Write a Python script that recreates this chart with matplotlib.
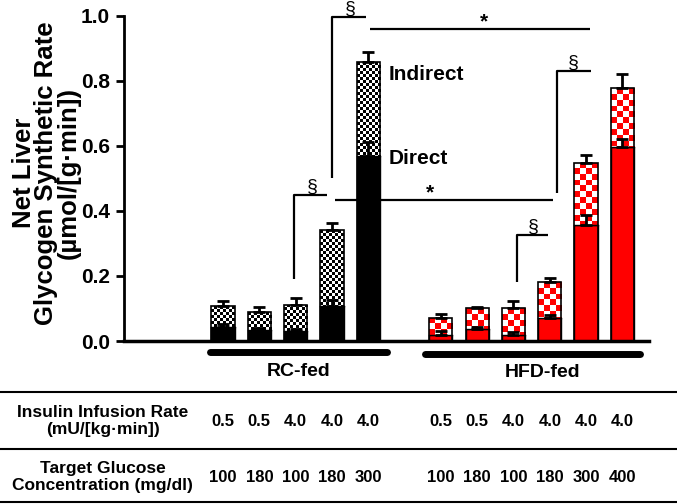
import numpy as np
import matplotlib
matplotlib.use("Agg")
import matplotlib.pyplot as plt
from matplotlib.patches import Rectangle
import matplotlib.transforms as mtransforms

plt.rcParams['font.family'] = ['Liberation Sans', 'DejaVu Sans']
plt.rcParams['font.weight'] = 'bold'

# ------------------------------- chart data -------------------------------- #
rc_pos = [0, 1, 2, 3, 4]
rc_total = [0.107, 0.090, 0.112, 0.340, 0.857]
rc_total_err = [0.015, 0.014, 0.021, 0.022, 0.031]
rc_direct = [0.043, 0.035, 0.030, 0.107, 0.568]
rc_direct_err = [0.008, 0.006, 0.008, 0.020, 0.045]

hfd_pos = [6, 7, 8, 9, 10, 11]
hfd_total = [0.072, 0.100, 0.100, 0.180, 0.548, 0.778]
hfd_total_err = [0.012, 0.005, 0.024, 0.013, 0.024, 0.043]
hfd_direct = [0.018, 0.038, 0.020, 0.070, 0.357, 0.598]
hfd_direct_err = [0.012, 0.006, 0.008, 0.010, 0.030, 0.024]

insulin = ["0.5", "0.5", "4.0", "4.0", "4.0", "0.5", "0.5", "4.0", "4.0", "4.0", "4.0"]
glucose = ["100", "180", "100", "180", "300", "100", "180", "100", "180", "300", "400"]
yticks = [0.0, 0.2, 0.4, 0.6, 0.8, 1.0]

width = 0.64
red = "#ff0000"

# --------------------------------- figure ---------------------------------- #
fig = plt.figure(figsize=(6.77, 5.04), dpi=100)
ax = fig.add_axes([0.183, 0.3234, 0.776, 0.645])
ax.set_xlim(-2.73, 11.74)
ax.set_ylim(0, 1.0)


def checker(ax, x, bottom, top, ncols, sq_h, c1):
    # checkerboard fill of one bar segment, clipped to the segment
    nrows = int(np.ceil((top - bottom) / sq_h)) + 1
    img = np.ones((nrows, ncols, 3))
    rgb = matplotlib.colors.to_rgb(c1)
    for i in range(nrows):
        for j in range(ncols):
            if (i + j) % 2 == 0:
                img[i, j] = rgb
    y0 = top - nrows * sq_h
    im = ax.imshow(img, extent=(x - width / 2, x + width / 2, y0, top),
                   origin='lower', interpolation='nearest', aspect='auto', zorder=2)
    clip = Rectangle((x - width / 2, bottom), width, top - bottom,
                     transform=ax.transData, facecolor='none', edgecolor='none')
    im.set_clip_path(clip)


def draw_group(pos, total, total_err, direct, direct_err, dcolor, ncols, sq_h, ccolor):
    ax.bar(pos, direct, width, color=dcolor, edgecolor='black', linewidth=1, zorder=2)
    for x, d, t in zip(pos, direct, total):
        checker(ax, x, d, t, ncols, sq_h, ccolor)
    ax.bar(pos, total, width, facecolor='none', edgecolor='black', linewidth=1.2, zorder=3)
    ax.plot([np.array(pos) - width / 2, np.array(pos) + width / 2], [direct, direct],
            color='black', lw=1, zorder=3)
    ax.errorbar(pos, total, yerr=[np.zeros(len(pos)), total_err], fmt='none',
                ecolor='black', elinewidth=2, capsize=4.5, capthick=2, zorder=4)
    ax.errorbar(pos, direct, yerr=[np.zeros(len(pos)), direct_err], fmt='none',
                ecolor='black', elinewidth=2, capsize=4.5, capthick=2, zorder=4)


draw_group(rc_pos, rc_total, rc_total_err, rc_direct, rc_direct_err, 'black', 8, 0.0092, 'black')
draw_group(hfd_pos, hfd_total, hfd_total_err, hfd_direct, hfd_direct_err, red, 4, 0.0178, red)

# axes styling
for s in ['top', 'right']:
    ax.spines[s].set_visible(False)
ax.spines['left'].set_linewidth(2)
ax.spines['bottom'].set_linewidth(2.5)
ax.set_xticks([])
ax.set_yticks(yticks)
ax.set_yticklabels([f"{v:.1f}" for v in yticks], fontsize=15, fontweight='bold')
ax.tick_params(axis='y', direction='out', length=6, width=2, pad=4)
ax.set_ylabel("Net Liver\nGlycogen Synthetic Rate\n(µmol/[g·min])",
              fontsize=18.5, fontweight='bold', linespacing=0.92)
ax.yaxis.set_label_coords(-0.082, 0.517)

# labels for segments
ax.text(4.55, 0.82, "Indirect", fontsize=15, fontweight='bold', va='center')
ax.text(4.55, 0.56, "Direct", fontsize=15, fontweight='bold', va='center')

# significance brackets
lk = dict(color='black', lw=1.6, clip_on=False, solid_capstyle='butt')
sk = dict(fontsize=14, ha='center', va='bottom', fontweight='normal')
ax.plot([3.0, 3.0, 3.94], [0.50, 0.997, 0.997], **lk)
ax.text(3.5, 0.995, "§", **sk)
ax.plot([4.05, 10.1], [0.96, 0.96], **lk)
ax.text(7.2, 0.952, "*", fontsize=15, ha='center', va='bottom')

ax.plot([1.96, 1.96, 2.87], [0.19, 0.45, 0.45], **lk)
ax.text(2.45, 0.448, "§", **sk)
ax.plot([3.09, 9.09], [0.434, 0.434], **lk)
ax.text(5.7, 0.426, "*", fontsize=15, ha='center', va='bottom')

ax.plot([8.1, 8.1, 8.95], [0.18, 0.326, 0.326], **lk)
ax.text(8.55, 0.324, "§", **sk)
ax.plot([9.2, 9.2, 10.14], [0.455, 0.83, 0.83], **lk)
ax.text(9.65, 0.828, "§", **sk)

# group underlines
ax.plot([-0.36, 4.52], [-0.034, -0.034], color='black', lw=5, solid_capstyle='round', clip_on=False)
ax.plot([5.56, 11.49], [-0.04, -0.04], color='black', lw=5, solid_capstyle='round', clip_on=False)
ax.text(2.07, -0.095, "RC-fed", fontsize=14, ha='center', va='center')
ax.text(8.79, -0.097, "HFD-fed", fontsize=14, ha='center', va='center')

# table below the chart
for yf in [1 - 392 / 504, 1 - 449 / 504, 1 - 502 / 504]:
    fig.add_artist(plt.Line2D([0, 1], [yf, yf], color='black', lw=1.5, transform=fig.transFigure))
fig.text(0.152, 1 - 421 / 504, "Insulin Infusion Rate\n(mU/[kg·min])", fontsize=12.5,
         ha='center', va='center', linespacing=1.15)
fig.text(0.152, 1 - 477 / 504, "Target Glucose\nConcentration (mg/dl)", fontsize=12.5,
         ha='center', va='center', linespacing=1.15)
trans = mtransforms.blended_transform_factory(ax.transData, fig.transFigure)
for x, a, b in zip(rc_pos + hfd_pos, insulin, glucose):
    ax.text(x, 1 - 421 / 504, a, fontsize=12, ha='center', va='center', transform=trans, clip_on=False)
    ax.text(x, 1 - 477 / 504, b, fontsize=12, ha='center', va='center', transform=trans, clip_on=False)

fig.savefig("out.png", dpi=100)
